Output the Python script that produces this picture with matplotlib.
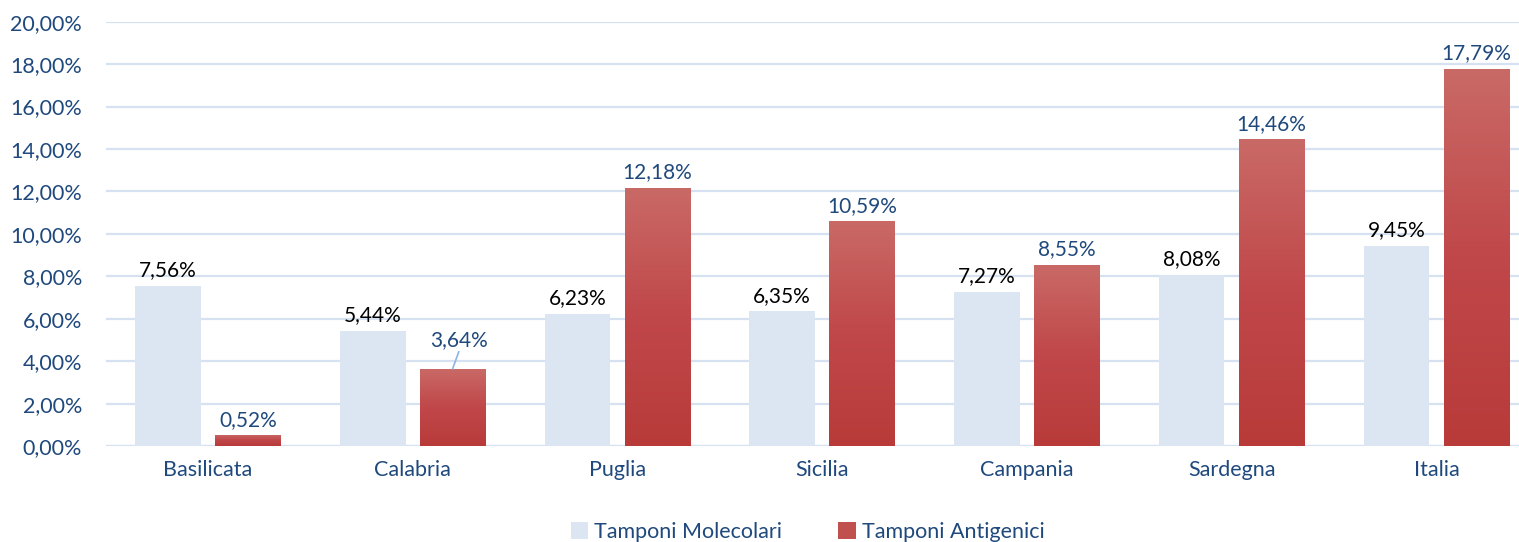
import numpy as np
import matplotlib.pyplot as plt
from matplotlib.colors import LinearSegmentedColormap

plt.rcParams['font.family'] = ['Lato', 'DejaVu Sans']

regions = ['Basilicata', 'Calabria', 'Puglia', 'Sicilia', 'Campania', 'Sardegna', 'Italia']
molecolari = [7.56, 5.44, 6.23, 6.35, 7.27, 8.08, 9.45]
antigenici = [0.52, 3.64, 12.18, 10.59, 8.55, 14.46, 17.79]
yticks = np.arange(0, 21, 2)

blue_fill = '#DCE6F2'
text_blue = '#1F497D'
grid_col = '#D6E2F2'

fig, ax = plt.subplots(figsize=(15.19, 5.42), dpi=100)
fig.subplots_adjust(left=0.0695, right=1.013, top=0.96, bottom=0.177)

x = np.arange(len(regions))
w = 0.32
gap = 0.07
xm = x - (w + gap) / 2
xa = x + (w + gap) / 2

ax.bar(xm, molecolari, width=w, color=blue_fill, zorder=2, label='Tamponi Molecolari')
bars = ax.bar(xa, antigenici, width=w, color='#C0504D', zorder=2, label='Tamponi Antigenici')

# vertical gradient on the red bars
grad = np.linspace(0, 1, 256).reshape(-1, 1)
cmap = LinearSegmentedColormap.from_list('red', ['#B83B39', '#C0474A', '#C96A66'])
for b in bars:
    bx, by = b.get_x(), b.get_y()
    bw, bh = b.get_width(), b.get_height()
    im = ax.imshow(grad, extent=(bx, bx + bw, by, by + bh), origin='lower',
                   aspect='auto', cmap=cmap, zorder=3)
    im.set_clip_path(b)

for xi, v in zip(xm, molecolari):
    ax.text(xi, v + 0.25, f'{v:.2f}%'.replace('.', ','), ha='center', va='bottom',
            fontsize=15, color='black', zorder=4)
for i, (xi, v) in enumerate(zip(xa, antigenici)):
    lab = f'{v:.2f}%'.replace('.', ',')
    if regions[i] == 'Calabria':
        ax.plot([xi, xi + 0.03], [v, v + 0.8], color='#8EB4E3', lw=1.2, zorder=4)
        ax.text(xi + 0.03, v + 0.9, lab, ha='center', va='bottom', fontsize=15,
                color=text_blue, zorder=4)
    else:
        ax.text(xi, v + 0.25, lab, ha='center', va='bottom', fontsize=15,
                color=text_blue, zorder=4)

ax.set_xlim(-0.5, len(regions) - 0.5)
ax.set_ylim(0, 20)
ax.set_yticks(yticks)
ax.set_yticklabels([f'{t:.2f}%'.replace('.', ',') for t in yticks])
ax.set_xticks(x)
ax.set_xticklabels(regions)
ax.tick_params(axis='both', length=0, labelsize=15.5, colors=text_blue)
ax.tick_params(axis='x', pad=10)
ax.tick_params(axis='y', pad=17)
ax.yaxis.grid(True, color=grid_col, lw=1.6, zorder=0)
for s in ax.spines.values():
    s.set_visible(False)
ax.axhline(0, color=grid_col, lw=1.6, zorder=1)

leg = ax.legend(loc='lower center', bbox_to_anchor=(0.49, -0.262), ncol=2, frameon=False,
                fontsize=15.5, handlelength=0.8, handleheight=0.8, handletextpad=0.3,
                columnspacing=2.6, borderpad=0.2)
for t in leg.get_texts():
    t.set_color(text_blue)

fig.savefig('out.png', dpi=100)
